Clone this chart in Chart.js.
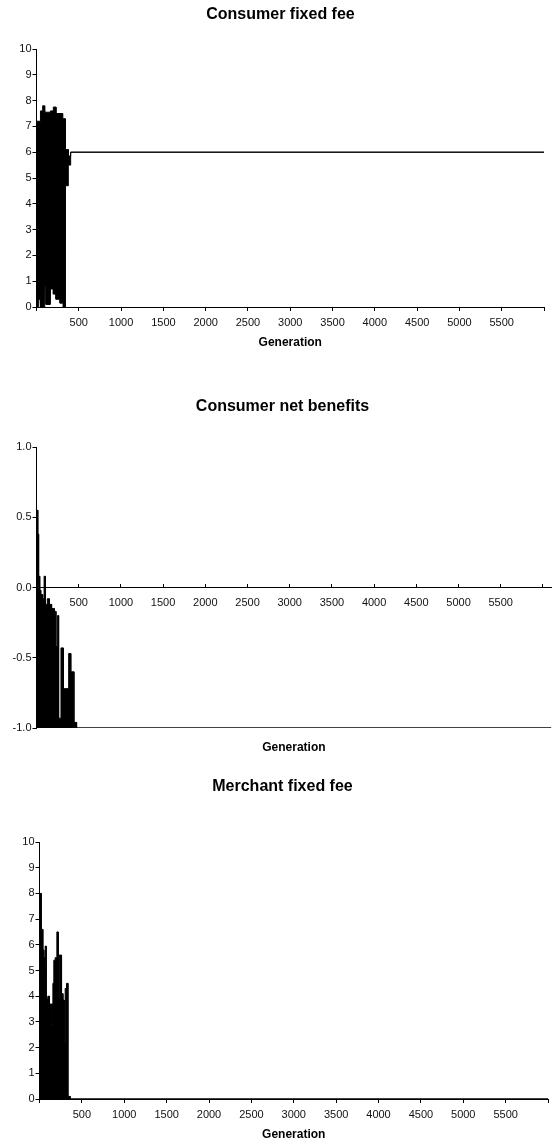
<!DOCTYPE html>
<html>
<head>
<meta charset="utf-8">
<script src="https://cdn.jsdelivr.net/npm/chart.js@4/dist/chart.umd.min.js"></script>
<style>
  html, body { margin: 0; padding: 0; background: #fff; }
  body { width: 556px; height: 1147px; position: relative; overflow: hidden; }
  canvas { position: absolute; left: 0; }
</style>
</head>
<body>
<canvas id="fixedFee" width="556" height="360" style="top:0"></canvas>
<canvas id="netBenefits" width="556" height="390" style="top:375px"></canvas>
<canvas id="merchantFee" width="556" height="382" style="top:765px"></canvas>
<script>
// generation axis: tick marks every 500, labels on the inner ones only
const genTicks  = [0, 500, 1000, 1500, 2000, 2500, 3000, 3500, 4000, 4500, 5000, 5500, 6000];
const genLabels = [500, 1000, 1500, 2000, 2500, 3000, 3500, 4000, 4500, 5000, 5500];
const benefitLabels = ['-1.0', '-0.5', '0.0', '0.5', '1.0'];

// Each series is given as runs: a run starts at gens[i] and holds its value
// until gens[i + 1]. High/low are the edges of the generation-to-generation swings.

// consumer fixed fee
const feeGens  = [0, 22, 42, 49, 73, 92, 100, 112, 160, 167, 199, 230, 278, 309, 317, 337, 345, 376, 404, 6000];
const feeHigh  = [7.2, 7.2, 7.6, 7.6, 7.8, 7.8, 7.55, 7.55, 7.6, 7.6, 7.75, 7.5, 7.5, 7.3, 7.3, 6.1, 6.1, 5.85, 6.0, 6.0];
const feeLow   = [0, 0.3, 0.3, 0, 0, 0.8, 0.8, 0.1, 0.1, 0.7, 0.5, 0.3, 0.15, 0.15, 0, 0, 4.7, 5.5, 6.0, 6.0];

// consumer net benefits (lower edge sits at -1)
const benGens  = [0, 15, 25, 38, 50, 73, 90, 104, 128, 152, 179, 211, 230, 250, 262, 290, 317, 376, 384, 406, 443, 475, 6100];
const benHigh  = [0.55, 0.38, 0.08, -0.02, -0.05, -0.08, 0.08, -0.12, -0.08, -0.12, -0.15, -0.17, -0.42, -0.2, -0.93, -0.43, -0.72, -0.76, -0.47, -0.6, -0.96, -1, -1];
const benLow   = [-1, -1, -1, -1, -1, -1, -1, -1, -1, -1, -1, -1, -1, -1, -1, -1, -1, -1, -1, -1, -1, -1, -1];

// merchant fixed fee
const merGens  = [0, 20, 39, 51, 59, 67, 79, 98, 118, 130, 142, 158, 169, 185, 205, 221, 232, 260, 276, 292, 303, 319, 335, 362, 6000];
const merHigh  = [8.0, 6.6, 5.8, 5.5, 5.0, 5.95, 3.9, 4.0, 3.7, 2.9, 3.7, 4.5, 5.4, 5.5, 6.5, 3.9, 5.6, 4.1, 3.85, 2.2, 4.3, 4.5, 0.1, 0, 0];
const merLow   = [0, 0, 0, 0, 0, 0, 0, 0, 0, 0, 0, 0, 0, 0, 0, 0, 0, 0, 0, 0, 0, 0, 0, 0, 0];

Chart.defaults.font.family = '"Liberation Sans", Arial, sans-serif';
Chart.defaults.color = '#111';
Chart.defaults.animation = false;

// flat runs -> point list with both ends of every run
function runs(gens, vals) {
  const pts = [];
  for (let i = 0; i < gens.length - 1; i++) {
    pts.push({ x: gens[i], y: vals[i] }, { x: gens[i + 1], y: vals[i] });
  }
  return pts;
}

function band(gens, high, low) {
  const line = { borderColor: '#000', borderWidth: 1, pointRadius: 0 };
  return [
    Object.assign({ data: runs(gens, high), backgroundColor: '#000', fill: '+1' }, line),
    Object.assign({ data: runs(gens, low), fill: false }, line)
  ];
}

function drawPanel(id, p) {
  // when the axis crosses at zero the tick marks point up, labels stay below
  const tickLen = p.ticksUp ? -4 : 4;
  const xScale = {
    type: 'linear', min: 0, max: p.xMax,
    position: p.xPosition || 'bottom',
    afterBuildTicks: s => { s.ticks = genTicks.map(v => ({ value: v })); },
    afterFit: s => { if (p.xHeight) s.height = p.xHeight; },
    border: { display: true, color: '#000', width: 1 },
    grid: { drawOnChartArea: false, drawTicks: true, tickLength: tickLen, color: '#000' },
    ticks: {
      autoSkip: false, maxRotation: 0, padding: p.ticksUp ? 13 : 5, font: { size: 11 },
      callback: v => genLabels.includes(v) ? String(v) : ''
    },
    title: {
      display: !!p.xTitlePad, text: 'Generation', color: '#000',
      font: { size: 12, weight: 'bold' }, padding: { top: 0, bottom: p.xTitlePad || 0 }
    }
  };
  const yScale = {
    type: 'linear', min: p.yMin, max: p.yMax,
    afterFit: s => { s.width = p.yWidth; },
    border: { display: true, color: '#000', width: 1 },
    grid: { drawOnChartArea: false, drawTicks: true, tickLength: 4, color: '#000' },
    ticks: { stepSize: p.yStep, padding: 1, font: { size: 11 }, callback: p.yLabel }
  };
  new Chart(document.getElementById(id), {
    type: 'line',
    data: { datasets: band(p.gens, p.high, p.low) },
    options: {
      responsive: false,
      devicePixelRatio: 1,
      layout: { padding: { left: p.left, right: p.right, top: 0, bottom: 0 } },
      scales: { x: xScale, y: yScale },
      plugins: {
        legend: { display: false },
        tooltip: { enabled: false },
        title: {
          display: true, text: p.title, color: '#000',
          font: { size: 16, weight: 'bold' }, padding: p.titlePad
        },
        subtitle: {
          display: !!p.bottomTitle, text: 'Generation', position: 'bottom', fullSize: false,
          color: '#000', font: { size: 12, weight: 'bold' }, padding: p.bottomTitle
        }
      }
    }
  });
}

drawPanel('fixedFee', {
  title: 'Consumer fixed fee', titlePad: { top: 5.4, bottom: 24.4 },
  gens: feeGens, high: feeHigh, low: feeLow,
  yMin: 0, yMax: 10, yStep: 1, left: 17, yWidth: 19.5, right: 12, xMax: 6000,
  xHeight: 53, xTitlePad: 9.8
});

drawPanel('netBenefits', {
  title: 'Consumer net benefits', titlePad: { top: 22.4, bottom: 30.4 },
  gens: benGens, high: benHigh, low: benLow,
  yMin: -1, yMax: 1, yStep: 0.5, left: 12, yWidth: 24.5, right: 3, xMax: 6100,
  yLabel: v => benefitLabels[Math.round((v + 1) * 2)],
  xPosition: { y: 0 }, ticksUp: true,
  bottomTitle: { top: 12.8, bottom: 9.8 }
});

drawPanel('merchantFee', {
  title: 'Merchant fixed fee', titlePad: { top: 12.4, bottom: 45.4 },
  gens: merGens, high: merHigh, low: merLow,
  yMin: 0, yMax: 10, yStep: 1, left: 17, yWidth: 22.5, right: 8, xMax: 6000,
  xHeight: 48, xTitlePad: 4.8
});
</script>
</body>
</html>
